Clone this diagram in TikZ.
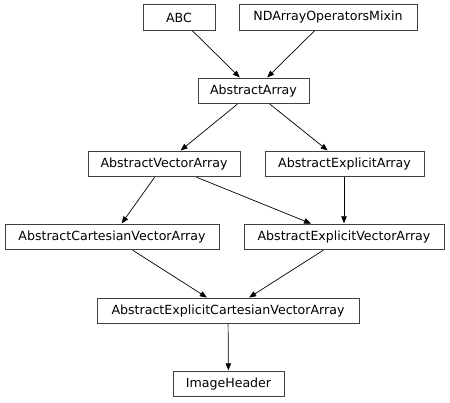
\documentclass[tikz,border=0pt]{standalone}
\usepackage{fontspec}
\setmainfont{DejaVu Sans}
\usetikzlibrary{arrows.meta}
\tikzset{
  cls/.style={draw=black!75, line width=0.9pt, fill=white, minimum height=25.5pt, inner sep=0pt, font=\fontsize{12.6}{14}\selectfont},
  inh/.style={draw=black, line width=0.7pt, -{Triangle[length=7pt,width=5.5pt]}, shorten >=0.5pt}
}
\begin{document}
\begin{tikzpicture}[x=1pt,y=-1pt]
\useasboundingbox (0,0) rectangle (450,403);
\node[cls, minimum width=72pt] (abc) at (179,17.5) {ABC};
\node[cls, minimum width=178pt] (nd) at (328,17.5) {NDArrayOperatorsMixin};
\node[cls, minimum width=111pt] (aa) at (253.5,91) {AbstractArray};
\node[cls, minimum width=152pt] (ava) at (164,164) {AbstractVectorArray};
\node[cls, minimum width=159pt] (aea) at (344.5,164) {AbstractExplicitArray};
\node[cls, minimum width=214pt] (acva) at (112,237) {AbstractCartesianVectorArray};
\node[cls, minimum width=200pt] (aeva) at (344,237) {AbstractExplicitVectorArray};
\node[cls, minimum width=262pt] (aecva) at (228,311) {AbstractExplicitCartesianVectorArray};
\node[cls, minimum width=111pt] (ih) at (228.5,384) {ImageHeader};
\draw[inh] (abc) -- (aa);
\draw[inh] (nd) -- (aa);
\draw[inh] (aa) -- (ava);
\draw[inh] (aa) -- (aea);
\draw[inh] (ava) -- (acva);
\draw[inh] (ava) -- (aeva);
\draw[inh] (aea.south -| aeva.north) -- (aeva.north);
\draw[inh] (acva) -- (aecva);
\draw[inh] (aeva) -- (aecva);
\draw[inh] (aecva) -- (ih);
\end{tikzpicture}
\end{document}
